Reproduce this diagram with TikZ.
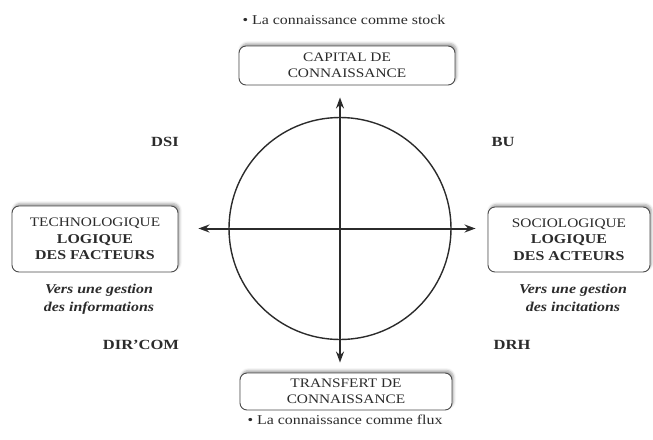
\documentclass[tikz,border=0pt]{standalone}
\usepackage{fontspec}
\setmainfont{Liberation Serif}[FakeStretch=1.18]
\usetikzlibrary{arrows.meta,shadows.blur}
\definecolor{ink}{HTML}{2B2B2B}
\definecolor{rim}{HTML}{4A4A4A}
\tikzset{
  box/.style={draw=rim, line width=0.9pt, rounded corners=7pt, fill=white,
    inner sep=0pt, align=center, text=ink,
    font=\fontsize{13}{16.5}\selectfont,
    blur shadow={shadow xshift=1.5pt, shadow yshift=2.5pt,
      shadow blur radius=2.5pt, shadow opacity=35}},
  role/.style={text=ink, font=\fontsize{14}{16}\selectfont\bfseries},
  note/.style={text=ink, align=center,
    font=\fontsize{13.5}{18}\selectfont\bfseries\itshape},
  stockline/.style={text=ink, font=\fontsize{13.5}{16}\selectfont},
  axis/.style={draw=ink, line width=2pt,
    {Stealth[length=11pt,width=8pt]}-{Stealth[length=11pt,width=8pt]}},
  ring/.style={draw=ink, line width=1.4pt}
}
\begin{document}
\begin{tikzpicture}[x=1pt,y=-1pt]
\useasboundingbox (0,0) rectangle (653,439);

% quadrant circle
\node[ring, circle, minimum size=222pt, inner sep=0pt] (ring) at (340,228.5) {};

% the four poles
\node[box, minimum width=216pt, minimum height=39pt] (top) at (347,65.5)
  {CAPITAL DE\\CONNAISSANCE};
\node[box, minimum width=212pt, minimum height=37pt] (bot) at (346,391.5)
  {TRANSFERT DE\\CONNAISSANCE};
\node[box, minimum width=166pt, minimum height=66pt] (left) at (95,239)
  {TECHNOLOGIQUE\\{\fontsize{13.5}{16.5}\selectfont\bfseries LOGIQUE}\\{\fontsize{13.5}{16.5}\selectfont\bfseries DES FACTEURS}};
\node[box, minimum width=162pt, minimum height=65pt] (right) at (569,239.5)
  {SOCIOLOGIQUE\\{\fontsize{13.5}{16.5}\selectfont\bfseries LOGIQUE}\\{\fontsize{13.5}{16.5}\selectfont\bfseries DES ACTEURS}};

% axes through the centre of the circle
\draw[axis, shorten <=12pt, shorten >=10pt]
  (top.south -| ring.center) -- (bot.north -| ring.center);
\draw[axis, shorten <=20pt, shorten >=12pt]
  (left.east |- ring.center) -- (right.west |- ring.center);

% captions
\node[stockline] (stock) at (344,20) {• La connaissance comme stock};
\node[stockline] (flux) at (345,420) {• La connaissance comme flux};
\node[note] (leftnote) at (99,299) {Vers une gestion\\des informations};
\node[note] (rightnote) at (573,298) {Vers une gestion\\des incitations};

% quadrant roles
\node[role] (dsi) at (165,142) {DSI};
\node[role] (bu) at (503,142) {BU};
\node[role] (dircom) at (141,345) {DIR’COM};
\node[role] (drh) at (512,345) {DRH};
\end{tikzpicture}
\end{document}
